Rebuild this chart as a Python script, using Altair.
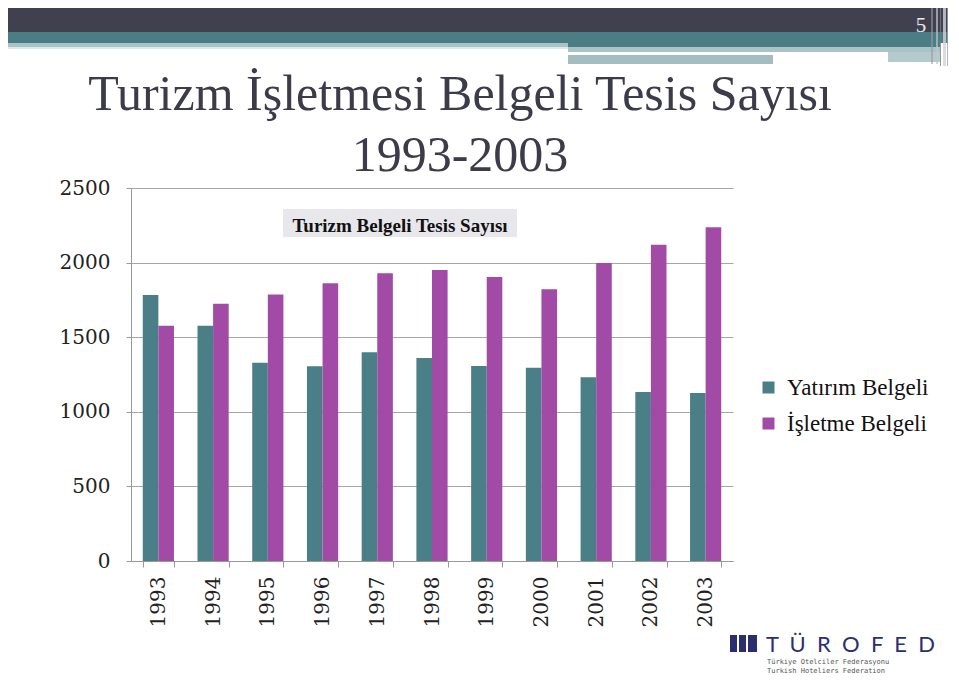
import altair as alt
import pandas as pd

# ---- data ----
years = ["1993", "1994", "1995", "1996", "1997", "1998", "1999", "2000", "2001", "2002", "2003"]
series_names = ["Yatırım Belgeli", "İşletme Belgeli"]
yatirim = [1783, 1577, 1329, 1305, 1399, 1360, 1307, 1296, 1231, 1133, 1126]
isletme = [1577, 1725, 1787, 1861, 1928, 1950, 1903, 1821, 1997, 2120, 2237]
series_colors = ["#4a7f87", "#a14ba7"]
y_ticks = [0, 500, 1000, 1500, 2000, 2500]

title_line1 = "Turizm İşletmesi Belgeli Tesis Sayısı"
title_line2 = "1993-2003"
chart_title = "Turizm Belgeli Tesis Sayısı"
page_no = "5"
logo_name = "\u00a0 ".join(list("TÜROFED"))
logo_line1 = "Türkiye Otelciler Federasyonu"
logo_line2 = "Turkish Hoteliers Federation"

rows = []
for i, yr in enumerate(years):
    rows.append({"year": yr, "series": series_names[0], "value": yatirim[i]})
    rows.append({"year": yr, "series": series_names[1], "value": isletme[i]})
df = pd.DataFrame(rows)

W, H = 602, 373
ONE = alt.Data(values=[{}])


def deco(x1, x2, y1, y2, color, opacity=1.0):
    return alt.Chart(ONE).mark_rect(color=color, opacity=opacity).encode(
        x=alt.value(x1), x2=alt.value(x2), y=alt.value(y1), y2=alt.value(y2)
    )


def label(text, x, y, size, color, font="Liberation Serif", align="center",
          weight="normal"):
    return alt.Chart(ONE).mark_text(
        text=text, font=font, fontSize=size, color=color, align=align,
        baseline="alphabetic", fontWeight=weight
    ).encode(x=alt.value(x), y=alt.value(y))


L, R = -123, 817
decor = [
    deco(L, R, -180, -156, "#41404f"),
    deco(L, R, -156, -145, "#4a7d84"),
    deco(437, 809, -145, -141, "#4a7d84"),
    deco(L, 437, -145, -141, "#a9c3c7"),
    deco(L, 437, -141, -139, "#dde8e9"),
    deco(437, 809, -141, -136, "#a9c3c7"),
    deco(757, 809, -136, -126, "#b4cacd"),
    deco(437, 642, -133, -124, "#a3bdc1"),
    deco(800, 802, -180, -124, "#9a9aa8", 0.6),
    deco(805, 807, -180, -124, "#c0c4cc", 0.7),
    deco(809, 810, -180, -122, "#7a7a88", 0.8),
    deco(812, 815, -180, -122, "#d0d4d8", 0.8),
    deco(816, 817, -180, -122, "#a0a0aa", 0.8),
    deco(152, 386, 21, 49, "#e7e7ec"),
]

texts = [
    label(page_no, 790, -156, 21, "#ececec"),
    label(title_line1, 329, -78, 50, "#3b3b4a"),
    label(title_line2, 329, -17, 50, "#3b3b4a"),
    label(chart_title, 269, 44, 19, "#111111", weight="bold"),
]

logo = [
    deco(599, 606, 447, 464, "#2a2d6e"),
    deco(608, 615, 447, 464, "#2a2d6e"),
    deco(617, 626, 447, 464, "#2a2d6e"),
    label(logo_name, 635, 464, 22, "#2b2e72", font="Lato", align="left"),
    label(logo_line1, 636, 476, 7, "#555555", font="DejaVu Sans Mono", align="left"),
    label(logo_line2, 636, 484.5, 7, "#555555", font="DejaVu Sans Mono", align="left"),
]

bars = alt.Chart(df).mark_bar().encode(
    x=alt.X(
        "year:N", sort=years, title=None,
        scale=alt.Scale(paddingInner=0.43, paddingOuter=0.215),
        axis=alt.Axis(
            labelAngle=270, labelFont="DejaVu Serif", labelFontSize=20,
            labelColor="#222222", labelPadding=9, tickBand="extent",
            tickSize=6, tickColor="#999999", domainColor="#999999", grid=False,
        ),
    ),
    xOffset=alt.XOffset(
        "series:N", scale=alt.Scale(domain=series_names, paddingInner=0, paddingOuter=0)
    ),
    y=alt.Y(
        "value:Q", title=None,
        scale=alt.Scale(domain=[0, 2500], nice=False),
        axis=alt.Axis(
            values=y_ticks, format="d", labelFont="DejaVu Serif", labelFontSize=20,
            labelColor="#222222", labelPadding=16, tickSize=5,
            tickColor="#999999", domainColor="#999999", gridColor="#a6a6a6",
        ),
    ),
    color=alt.Color(
        "series:N",
        scale=alt.Scale(domain=series_names, range=series_colors),
        legend=alt.Legend(
            title=None, orient="none", legendX=626, legendY=188, padding=0,
            symbolType="square", symbolSize=144, symbolStrokeWidth=0,
            labelFont="Liberation Serif", labelFontSize=23, labelColor="#111111",
            labelOffset=7, rowPadding=12,
        ),
    ),
)

chart = alt.layer(*decor, bars, *texts, *logo).properties(
    width=W, height=H,
    padding={"left": 123, "top": 180, "right": 215, "bottom": 114},
    autosize=alt.AutoSizeParams(type="none"),
    background="white",
).configure_view(stroke=None)

chart.save("out.html", embed_options={"renderer": "svg", "actions": False})
